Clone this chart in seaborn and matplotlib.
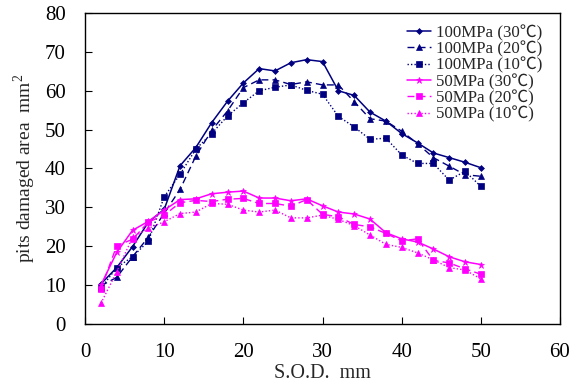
import matplotlib
matplotlib.use("Agg")
import matplotlib.pyplot as plt
import seaborn as sns
import pandas as pd

sod = [2, 4, 6, 8, 10, 12, 14, 16, 18, 20, 22, 24, 26, 28, 30, 32, 34, 36, 38, 40, 42, 44, 46, 48, 50]

p100_30 = [10.3, 14.5, 19.9, 26.2, 29.5, 40.7, 45.4, 51.8, 57.3, 62.0, 65.7, 65.1, 67.2, 68.0, 67.5,
           60.0, 58.8, 54.5, 52.2, 49.0, 46.6, 44.0, 42.8, 41.6, 40.2]
p100_20 = [9.8, 12.0, 17.3, 22.3, 28.5, 34.6, 43.2, 49.8, 54.8, 60.8, 62.8, 62.8, 61.6, 62.3, 61.5,
           61.5, 57.2, 52.8, 52.2, 49.6, 46.4, 42.8, 40.6, 38.4, 38.0]
p100_10 = [9.2, 14.5, 17.3, 21.3, 32.7, 38.5, 45.0, 49.0, 53.5, 56.9, 60.0, 60.9, 61.5, 60.1, 59.1,
           53.4, 50.7, 47.5, 47.8, 43.5, 41.3, 41.3, 37.0, 39.3, 35.4]
p50_30 = [10.0, 18.4, 24.1, 26.4, 29.3, 32.0, 32.2, 33.5, 33.9, 34.2, 32.4, 32.4, 31.7, 32.2, 30.4,
          28.8, 28.3, 27.0, 23.5, 21.9, 21.1, 19.3, 17.3, 16.0, 15.3]
p50_20 = [9.0, 20.1, 21.8, 26.2, 28.0, 31.2, 31.8, 31.5, 32.1, 32.3, 31.0, 31.0, 30.3, 32.0, 28.2,
          27.6, 25.6, 25.0, 23.3, 21.4, 21.9, 16.4, 15.7, 14.2, 12.8]
p50_10 = [5.3, 13.4, 22.3, 24.6, 26.3, 28.4, 28.8, 31.0, 30.8, 29.3, 28.8, 29.3, 27.3, 27.3, 28.0,
          26.9, 25.3, 22.9, 20.5, 19.7, 18.3, 16.5, 14.5, 13.9, 11.6]

labels = ["100MPa (30\u2103)", "100MPa (20\u2103)", "100MPa (10\u2103)",
          "50MPa (30\u2103)", "50MPa (20\u2103)", "50MPa (10\u2103)"]
series = [p100_30, p100_20, p100_10, p50_30, p50_20, p50_10]

xticks = [0, 10, 20, 30, 40, 50, 60]
yticks = [0, 10, 20, 30, 40, 50, 60, 70, 80]

sns.set_style("white")
plt.rcParams['font.family'] = ['Liberation Serif', 'Noto Sans CJK SC', 'DejaVu Serif']
plt.rcParams['mathtext.fontset'] = 'custom'
plt.rcParams['mathtext.rm'] = 'Liberation Serif'

navy = "#000080"
mag = "#FF00FF"
styles = [
    dict(color=navy, linestyle='-', marker='D', markersize=3, lw=1.1),
    dict(color=navy, linestyle=(0, (5, 3)), marker='^', markersize=4, lw=1.0),
    dict(color=navy, linestyle=(0, (1, 1.5)), marker='s', markersize=4, lw=1.0),
    dict(color=mag, linestyle='-', marker='*', markersize=5, lw=1.1),
    dict(color=mag, linestyle=(0, (5, 3)), marker='s', markersize=4, lw=1.0),
    dict(color=mag, linestyle=(0, (1, 1.5)), marker='^', markersize=4, lw=1.0),
]

fig = plt.figure(figsize=(5.8, 3.87), dpi=100)
ax = fig.add_axes([0.1466, 0.1628, 0.8189, 0.8036])

for lab, vals, st in zip(labels, series, styles):
    df = pd.DataFrame({"x": sod, "y": vals})
    sns.lineplot(data=df, x="x", y="y", ax=ax, label=lab, color=st["color"],
                 linestyle=st["linestyle"], marker=st["marker"], markersize=st["markersize"],
                 markeredgecolor=st["color"], markeredgewidth=0.5, linewidth=st["lw"])

ax.set_xlim(0, 60)
ax.set_ylim(0, 80)
ax.set_xticks(xticks)
ax.set_yticks(yticks)
ax.tick_params(axis='both', direction='in', length=5, width=0.8, labelsize=15, colors='black')
ax.tick_params(axis='x', pad=14)
ax.tick_params(axis='y', pad=14)
ax.tick_params(top=False, right=False, bottom=True, left=True)
for s in ax.spines.values():
    s.set_color('black')
    s.set_linewidth(1.0)

ax.set_xlabel("S.O.D.  mm", fontsize=14.5, labelpad=1)
ax.set_ylabel("pits damaged area  mm$^2$", fontsize=14, labelpad=5)

leg = ax.legend(loc='upper right', frameon=False, fontsize=12.2, handlelength=1.4,
                handletextpad=0.3, labelspacing=0.0, borderaxespad=0.0, borderpad=0.1,
                bbox_to_anchor=(0.966, 0.968))

fig.savefig("out.png", dpi=100)
